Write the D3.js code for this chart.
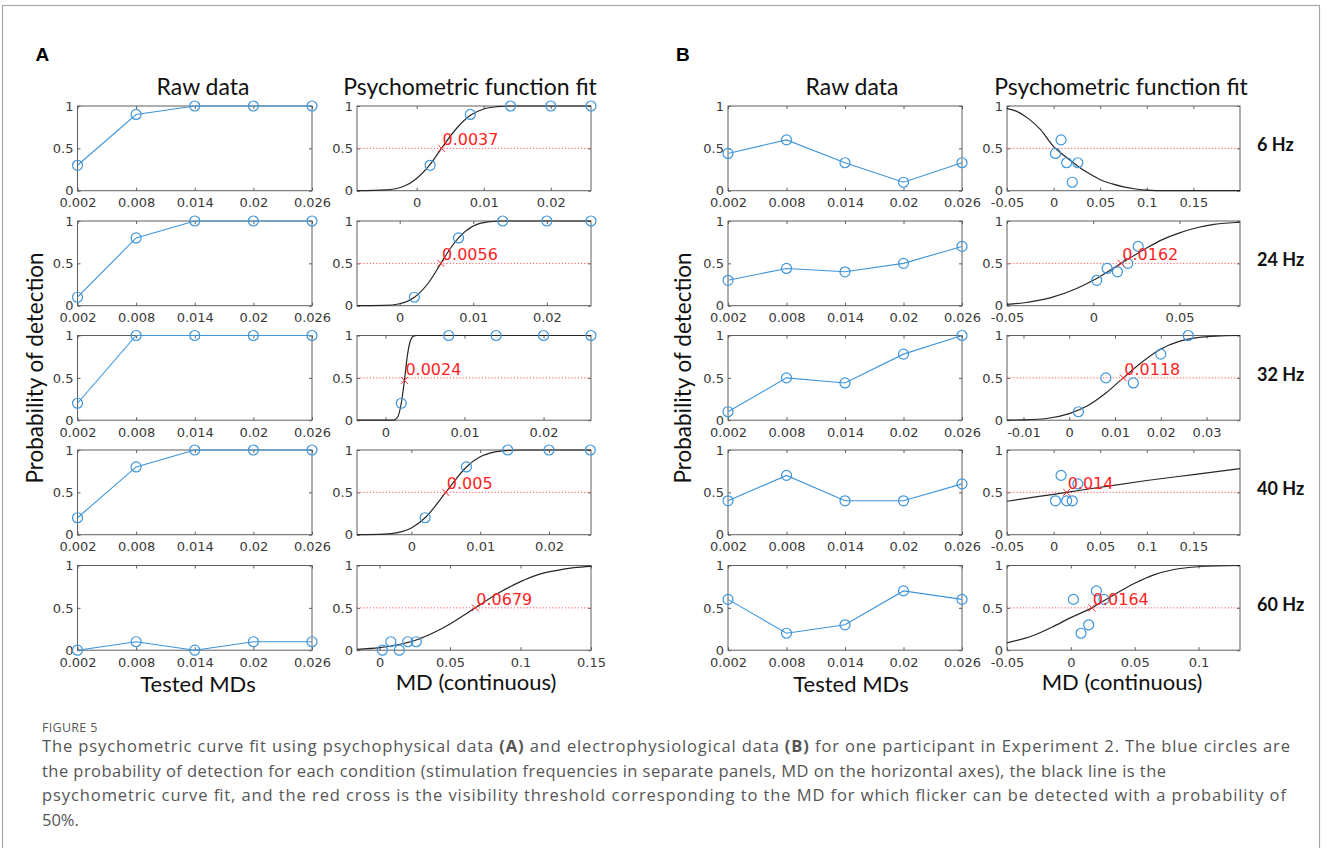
<!DOCTYPE html>
<html>
<head>
<meta charset="utf-8">
<script src="https://cdn.jsdelivr.net/npm/d3@7"></script>
<style>
  body { margin: 0; background: #fff; }
</style>
</head>
<body>
<svg id="fig" width="1328" height="848"></svg>
<script>
// Tested modulation depths (x of every raw-data panel)
const testedMDs = [0.002, 0.008, 0.014, 0.02, 0.026];
const rawTickLabels = ["0.002", "0.008", "0.014", "0.02", "0.026"];
const probTicks = [0, 0.5, 1];

// A: psychophysical data, one row per panel
const probA = [
  [0.3, 0.9, 1, 1, 1],
  [0.1, 0.8, 1, 1, 1],
  [0.2, 1, 1, 1, 1],
  [0.2, 0.8, 1, 1, 1],
  [0, 0.1, 0, 0.1, 0.1]
];
const thresholdA = [0.0037, 0.0056, 0.0024, 0.005, 0.0679];
const thresholdYA = [0.5, 0.5, 0.47, 0.5, 0.5];
const thresholdLabelA = ["0.0037", "0.0056", "0.0024", "0.005", "0.0679"];
const fitRangeA = [[-0.0089, 0.026], [-0.0058, 0.026], [-0.0036, 0.026], [-0.0079, 0.0261], [-0.016, 0.15]];
const fitTicksA = [[0, 0.01, 0.02], [0, 0.01, 0.02], [0, 0.01, 0.02], [0, 0.01, 0.02], [0, 0.05, 0.1, 0.15]];
const fitCurveA = [
  [[-0.0089, 0], [-0.0045, 0.01], [-0.002, 0.05], [0, 0.145], [0.002, 0.31], [0.0037, 0.5], [0.006, 0.74], [0.008, 0.89], [0.01, 0.965], [0.012, 0.992], [0.014, 1], [0.026, 1]],
  [[-0.0058, 0], [-0.002, 0.003], [0, 0.023], [0.002, 0.1], [0.004, 0.28], [0.0056, 0.5], [0.007, 0.69], [0.008, 0.8], [0.01, 0.94], [0.012, 0.99], [0.014, 1], [0.026, 1]],
  [[-0.0036, 0], [0.001, 0.001], [0.0015, 0.03], [0.002, 0.2], [0.0024, 0.47], [0.0028, 0.78], [0.0032, 0.95], [0.0036, 0.995], [0.004, 1], [0.026, 1]],
  [[-0.0079, 0], [-0.004, 0.006], [-0.002, 0.025], [0, 0.08], [0.002, 0.2], [0.005, 0.5], [0.008, 0.8], [0.01, 0.92], [0.012, 0.975], [0.014, 0.994], [0.016, 1], [0.0261, 1]],
  [[-0.016, 0.01], [0, 0.03], [0.013, 0.064], [0.026, 0.12], [0.04, 0.22], [0.05, 0.31], [0.0679, 0.5], [0.085, 0.68], [0.1, 0.81], [0.112, 0.89], [0.125, 0.94], [0.138, 0.974], [0.15, 0.99]]
];

// B: electrophysiological data, one row per stimulation frequency
const freqLabels = ["6 Hz", "24 Hz", "32 Hz", "40 Hz", "60 Hz"];
const probB = [
  [0.44, 0.6, 0.33, 0.1, 0.33],
  [0.3, 0.44, 0.4, 0.5, 0.7],
  [0.1, 0.5, 0.44, 0.78, 1],
  [0.4, 0.7, 0.4, 0.4, 0.6],
  [0.6, 0.2, 0.3, 0.7, 0.6]
];
const thresholdB = [null, 0.0162, 0.0118, 0.014, 0.0164];
const thresholdYB = [null, 0.5, 0.5, 0.5, 0.5];
const thresholdLabelB = ["", "0.0162", "0.0118", "0.014", "0.0164"];
const fitRangeB = [[-0.05, 0.2], [-0.05, 0.085], [-0.0136, 0.0373], [-0.05, 0.2], [-0.05, 0.1325]];
const fitTicksB = [[-0.05, 0, 0.05, 0.1, 0.15], [-0.05, 0, 0.05], [-0.01, 0, 0.01, 0.02, 0.03], [-0.05, 0, 0.05, 0.1, 0.15], [-0.05, 0, 0.05, 0.1]];
const fitCurveB = [
  [[-0.05, 0.97], [-0.04, 0.94], [-0.028, 0.86], [-0.014, 0.72], [0, 0.52], [0.013, 0.4], [0.026, 0.29], [0.04, 0.19], [0.05, 0.13], [0.063, 0.08], [0.075, 0.045], [0.088, 0.02], [0.1, 0.006], [0.12, 0], [0.2, 0]],
  [[-0.05, 0.016], [-0.04, 0.035], [-0.025, 0.092], [-0.01, 0.2], [0, 0.3], [0.0162, 0.5], [0.03, 0.67], [0.04, 0.78], [0.05, 0.86], [0.06, 0.92], [0.07, 0.96], [0.085, 0.985]],
  [[-0.0136, 0.001], [-0.01, 0.004], [-0.005, 0.02], [0, 0.078], [0.004, 0.17], [0.008, 0.32], [0.0118, 0.5], [0.016, 0.69], [0.02, 0.84], [0.024, 0.93], [0.028, 0.975], [0.032, 0.993], [0.0373, 1]],
  [[-0.05, 0.395], [0, 0.477], [0.014, 0.5], [0.05, 0.56], [0.1, 0.64], [0.15, 0.71], [0.2, 0.78]],
  [[-0.05, 0.087], [-0.03, 0.17], [-0.015, 0.27], [0, 0.385], [0.0164, 0.5], [0.03, 0.62], [0.05, 0.79], [0.065, 0.89], [0.08, 0.95], [0.1, 0.985], [0.1325, 1]]
];

const captionLines = [
  ["The psychometric curve fit using psychophysical data ", ["(A)"], " and electrophysiological data ", ["(B)"], " for one participant in Experiment 2. The blue circles are"],
  ["the probability of detection for each condition (stimulation frequencies in separate panels, MD on the horizontal axes), the black line is the"],
  ["psychometric curve fit, and the red cross is the visibility threshold corresponding to the MD for which flicker can be detected with a probability of"],
  ["50%."]
];

// layout
const rowTop = [106, 221, 335.5, 450, 565.5];
const rowH = 84.7;
const cols = { aRaw: [77.5, 312], aFit: [357, 591], bRaw: [728, 962], bFit: [1007, 1240] };

const blue = "#3f95da";
const axisColor = "#5e5e5e";
const labelColor = "#3a3a3a";
const tickFont = "'DejaVu Sans', sans-serif";
const titleFont = "Lato, 'Open Sans', sans-serif";

const svg = d3.select('#fig');

// outer frame
svg.append('rect')
  .attr('x', 2.5).attr('y', 5.5)
  .attr('width', 1317).attr('height', 860)
  .attr('fill', 'none').attr('stroke', '#a8a8a8').attr('stroke-width', 1.2);

const fmtTick = d => String(+d.toFixed(4));

function drawAxes(g, x, y, xTicks, xLabels) {
  const [x0, x1] = x.range();
  const [yb, yt] = y.range();
  g.append('rect')
    .attr('x', x0).attr('y', yt)
    .attr('width', x1 - x0).attr('height', yb - yt)
    .attr('fill', 'none').attr('stroke', axisColor).attr('stroke-width', 1);

  const fmt = xLabels ? (d, i) => xLabels[i] : fmtTick;
  const axes = [
    g.append('g').attr('transform', `translate(0,${yb})`)
      .call(d3.axisBottom(x).tickValues(xTicks).tickFormat(fmt).tickSizeInner(-3).tickSizeOuter(0).tickPadding(7.5)),
    g.append('g').attr('transform', `translate(0,${yt})`)
      .call(d3.axisTop(x).tickValues(xTicks).tickFormat(() => '').tickSizeInner(-3).tickSizeOuter(0)),
    g.append('g').attr('transform', `translate(${x0},0)`)
      .call(d3.axisLeft(y).tickValues(probTicks).tickFormat(d => String(d)).tickSizeInner(-3).tickSizeOuter(0).tickPadding(4)),
    g.append('g').attr('transform', `translate(${x1},0)`)
      .call(d3.axisRight(y).tickValues(probTicks).tickFormat(() => '').tickSizeInner(-3).tickSizeOuter(0))
  ];
  axes.forEach(a => {
    a.select('.domain').remove();
    a.selectAll('line').attr('stroke', axisColor);
    a.selectAll('text')
      .attr('fill', labelColor)
      .style('font-family', tickFont)
      .style('font-size', '13px');
  });
}

function drawRaw(col, row, probs) {
  const g = svg.append('g');
  const x = d3.scaleLinear().domain([0.002, 0.026]).range(col);
  const y = d3.scaleLinear().domain([0, 1]).range([rowTop[row] + rowH, rowTop[row]]);
  drawAxes(g, x, y, testedMDs, rawTickLabels);

  const pts = testedMDs.map((m, i) => [m, probs[i]]);
  g.append('path')
    .datum(pts)
    .attr('fill', 'none')
    .attr('stroke', blue)
    .attr('stroke-width', 1.1)
    .attr('d', d3.line().x(d => x(d[0])).y(d => y(d[1])));
  g.selectAll('circle.raw')
    .data(pts)
    .enter()
    .append('circle')
    .attr('class', 'raw')
    .attr('cx', d => x(d[0]))
    .attr('cy', d => y(d[1]))
    .attr('r', 5)
    .attr('fill', 'none')
    .attr('stroke', blue)
    .attr('stroke-width', 1.2);
}

function drawFit(col, row, probs, range, ticks, curve, th, thY, thLabel) {
  const g = svg.append('g');
  const x = d3.scaleLinear().domain(range).range(col);
  const y = d3.scaleLinear().domain([0, 1]).range([rowTop[row] + rowH, rowTop[row]]);
  drawAxes(g, x, y, ticks, null);

  // 50% reference line
  g.append('line')
    .attr('x1', col[0]).attr('x2', col[1])
    .attr('y1', y(0.5)).attr('y2', y(0.5))
    .attr('stroke', '#ff5a5a')
    .attr('stroke-width', 1)
    .attr('stroke-dasharray', '1.2,2');

  g.append('path')
    .datum(curve)
    .attr('fill', 'none')
    .attr('stroke', '#262626')
    .attr('stroke-width', 1.2)
    .attr('d', d3.line().x(d => x(d[0])).y(d => y(d[1])).curve(d3.curveMonotoneX));

  g.selectAll('circle.fit')
    .data(testedMDs.map((m, i) => [m, probs[i]]))
    .enter()
    .append('circle')
    .attr('class', 'fit')
    .attr('cx', d => x(d[0]))
    .attr('cy', d => y(d[1]))
    .attr('r', 5)
    .attr('fill', 'none')
    .attr('stroke', blue)
    .attr('stroke-width', 1.2);

  if (th !== null) {
    g.append('path')
      .attr('transform', `translate(${x(th)},${y(thY)})`)
      .attr('d', 'M-3.5,-3.5L3.5,3.5M-3.5,3.5L3.5,-3.5')
      .attr('stroke', '#ff2a2a')
      .attr('stroke-width', 1);
    g.append('text')
      .attr('x', x(th) + 1)
      .attr('y', y(0.5) - 3)
      .attr('fill', '#ff1f1f')
      .style('font-family', tickFont)
      .style('font-size', '16px')
      .text(thLabel);
  }
}

for (let r = 0; r < 5; r++) {
  drawRaw(cols.aRaw, r, probA[r]);
  drawFit(cols.aFit, r, probA[r], fitRangeA[r], fitTicksA[r], fitCurveA[r], thresholdA[r], thresholdYA[r], thresholdLabelA[r]);
  drawRaw(cols.bRaw, r, probB[r]);
  drawFit(cols.bFit, r, probB[r], fitRangeB[r], fitTicksB[r], fitCurveB[r], thresholdB[r], thresholdYB[r], thresholdLabelB[r]);

  svg.append('text')
    .attr('x', 1257)
    .attr('y', rowTop[r] + rowH / 2 + 3)
    .style('font-family', titleFont)
    .style('font-weight', 'bold')
    .style('font-size', '18px')
    .attr('fill', '#111')
    .text(freqLabels[r]);
}

// titles and axis labels
function label(x, y, txt, size, rotate) {
  const t = svg.append('text')
    .attr('text-anchor', 'middle')
    .attr('fill', '#111')
    .style('font-family', titleFont)
    .style('font-size', size + 'px')
    .text(txt);
  if (rotate) t.attr('transform', `translate(${x},${y}) rotate(-90)`);
  else t.attr('x', x).attr('y', y);
}
label(203, 94.5, 'Raw data', 23);
label(470, 95, 'Psychometric function fit', 23);
label(852, 94.5, 'Raw data', 23);
label(1121, 95, 'Psychometric function fit', 23);
label(198, 692, 'Tested MDs', 22);
label(476, 690, 'MD (continuous)', 22);
label(851, 692, 'Tested MDs', 22);
label(1122, 690, 'MD (continuous)', 22);
label(43, 368, 'Probability of detection', 22.5, true);
label(691, 368, 'Probability of detection', 22.5, true);

svg.append('text').attr('x', 35.5).attr('y', 60.5)
  .style('font-family', "'Liberation Sans', Arial, sans-serif")
  .style('font-weight', 'bold').style('font-size', '19px').text('A');
svg.append('text').attr('x', 676).attr('y', 60.5)
  .style('font-family', "'Liberation Sans', Arial, sans-serif")
  .style('font-weight', 'bold').style('font-size', '19px').text('B');

// caption
svg.append('text').attr('x', 42).attr('y', 732)
  .attr('fill', '#5a5a5a')
  .style('font-family', "'Open Sans', sans-serif")
  .style('font-size', '12.5px')
  .style('letter-spacing', '0.3px')
  .text('FIGURE 5');

const lineWidths = [1248, 1124, 1244, null];
captionLines.forEach((parts, i) => {
  const t = svg.append('text')
    .attr('x', 42)
    .attr('y', 752 + i * 24.5)
    .attr('fill', '#555')
    .style('font-family', "'Open Sans', sans-serif")
    .style('font-size', '16.5px');
  parts.forEach(p => {
    const s = t.append('tspan').text(Array.isArray(p) ? p[0] : p);
    if (Array.isArray(p)) s.style('font-weight', 'bold');
  });
  if (lineWidths[i]) t.attr('textLength', lineWidths[i]).attr('lengthAdjust', 'spacing');
});
</script>
</body>
</html>
